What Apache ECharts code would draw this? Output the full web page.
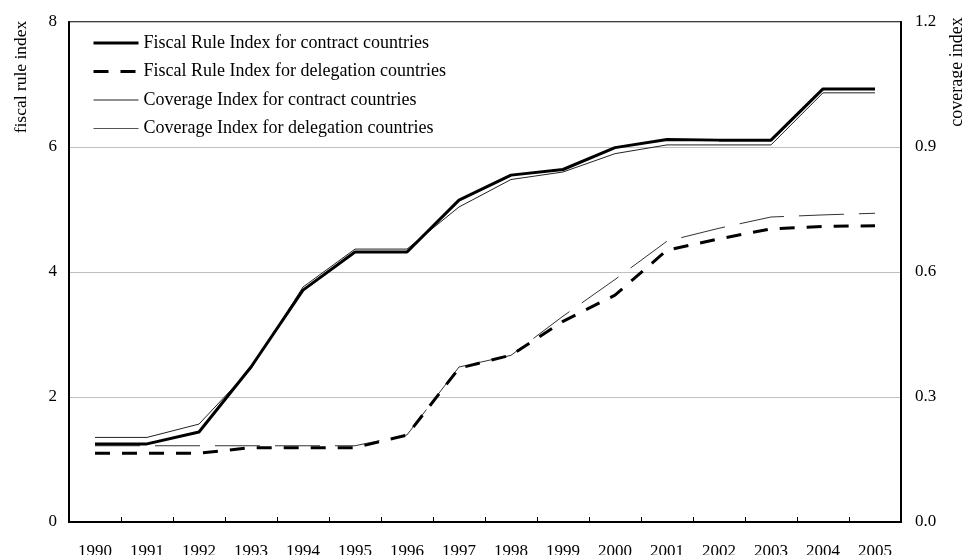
<!DOCTYPE html>
<html>
<head>
<meta charset="utf-8">
<script src="https://cdn.jsdelivr.net/npm/echarts@6/dist/echarts.min.js"></script>
<style>
html,body{margin:0;padding:0;background:#fff;}
#chart{width:962px;height:555px;}
</style>
</head>
<body>
<div id="chart"></div>
<script>
const years = ['1990','1991','1992','1993','1994','1995','1996','1997','1998','1999','2000','2001','2002','2003','2004','2005'];
const fiscalContract = [1.25,1.25,1.44,2.48,3.71,4.32,4.32,5.15,5.55,5.64,5.99,6.12,6.11,6.11,6.93,6.93];
const fiscalDelegation = [1.10,1.10,1.10,1.19,1.19,1.19,1.39,2.46,2.67,3.21,3.63,4.35,4.53,4.69,4.73,4.74];
const coverageContract = [0.203,0.203,0.235,0.368,0.564,0.655,0.655,0.756,0.822,0.840,0.884,0.905,0.905,0.905,1.030,1.030];
const coverageDelegation = [0.183,0.183,0.183,0.183,0.183,0.183,0.209,0.372,0.400,0.494,0.582,0.674,0.705,0.732,0.737,0.741];
const seriesNames = [
  'Fiscal Rule Index for contract countries',
  'Fiscal Rule Index for delegation countries',
  'Coverage Index for contract countries',
  'Coverage Index for delegation countries'
];
const leftAxisName = 'fiscal rule index';
const rightAxisName = 'coverage index';

const FONT = 'Liberation Serif';
const chart = echarts.init(document.getElementById('chart'), null, {renderer:'canvas'});
chart.setOption({
  animation: false,
  backgroundColor: '#fff',
  textStyle: {fontFamily: FONT, color: '#000'},
  grid: {left: 69, right: 61, top: 22, bottom: 33, show: true, borderColor: '#000', borderWidth: 1.5,
         containLabel: false, outerBoundsMode: 'none'},
  legend: {
    orient: 'vertical', left: 92, top: 34, padding: 0,
    itemWidth: 45, itemHeight: 18, itemGap: 10.5,
    itemStyle: {opacity: 0},
    textStyle: {fontFamily: FONT, fontSize: 18, color: '#000'},
    data: [
      {name: seriesNames[0], lineStyle: {type: 'solid', color: '#000', width: 3}},
      {name: seriesNames[1], lineStyle: {type: [15, 12], color: '#000', width: 3}},
      {name: seriesNames[2], lineStyle: {type: 'solid', color: '#222', width: 1}},
      {name: seriesNames[3], lineStyle: {type: 'solid', color: '#555', width: 1}}
    ]
  },
  xAxis: {
    type: 'category', data: years, boundaryGap: true,
    axisLine: {lineStyle: {color: '#000', width: 2}},
    axisTick: {show: true, inside: true, length: 5, lineStyle: {color: '#000', width: 1}},
    axisLabel: {fontFamily: FONT, fontSize: 17, color: '#000', margin: 21, interval: 0},
    splitLine: {show: false}
  },
  yAxis: [
    {
      type: 'value', min: 0, max: 8, interval: 2, position: 'left',
      axisLine: {show: true, lineStyle: {color: '#000', width: 2}},
      axisTick: {show: false},
      axisLabel: {fontFamily: FONT, fontSize: 17, color: '#000', margin: 12},
      splitLine: {show: true, lineStyle: {color: '#c0c0c0', width: 1}}
    },
    {
      type: 'value', min: 0, max: 1.2, interval: 0.3, position: 'right',
      axisLine: {show: true, lineStyle: {color: '#000', width: 2}},
      axisTick: {show: false},
      axisLabel: {fontFamily: FONT, fontSize: 17, color: '#000', margin: 14, formatter: v => v.toFixed(1)},
      splitLine: {show: false}
    }
  ],
  graphic: [
    {type: 'text', x: 21, y: 77, rotation: Math.PI/2,
     style: {text: leftAxisName, fontFamily: FONT, fontSize: 17.5, fill: '#000', textAlign: 'center', textVerticalAlign: 'middle'}},
    {type: 'text', x: 957, y: 72, rotation: Math.PI/2,
     style: {text: rightAxisName, fontFamily: FONT, fontSize: 18, fill: '#000', textAlign: 'center', textVerticalAlign: 'middle'}}
  ],
  series: [
    {name: seriesNames[2], type: 'line', yAxisIndex: 1, data: coverageContract, symbol: 'none',
     lineStyle: {color: '#222', width: 1, type: 'solid'}, itemStyle: {color: '#222'}, z: 2},
    {name: seriesNames[3], type: 'line', yAxisIndex: 1, data: coverageDelegation, symbol: 'none',
     lineStyle: {color: '#333', width: 1, type: [45, 15]}, itemStyle: {color: '#444'}, z: 2},
    {name: seriesNames[0], type: 'line', yAxisIndex: 0, data: fiscalContract, symbol: 'none',
     lineStyle: {color: '#000', width: 3, type: 'solid'}, itemStyle: {color: '#000'}, z: 3},
    {name: seriesNames[1], type: 'line', yAxisIndex: 0, data: fiscalDelegation, symbol: 'none',
     lineStyle: {color: '#000', width: 3, type: [15, 12]}, itemStyle: {color: '#000'}, z: 3}
  ]
});
</script>
</body>
</html>
